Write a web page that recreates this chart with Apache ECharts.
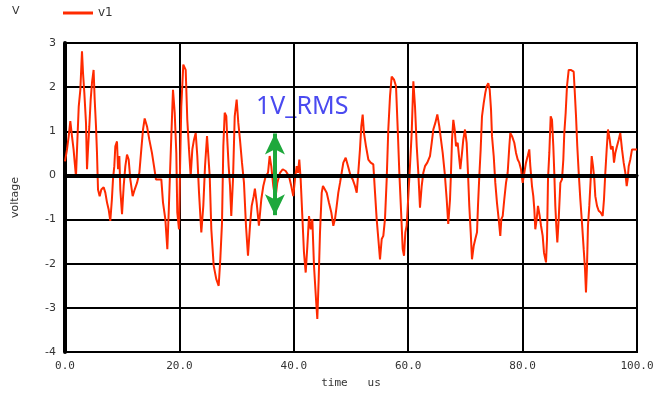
<!DOCTYPE html>
<html>
<head>
<meta charset="utf-8">
<script src="https://cdn.jsdelivr.net/npm/echarts@6/dist/echarts.min.js"></script>
<style>
  html, body { margin: 0; padding: 0; background: #fff; }
  #chart { width: 657px; height: 394px; }
</style>
</head>
<body>
<div id="chart"></div>
<script>
// time axis in microseconds, voltage in volts
var timeUs = [0, 0.35, 0.65, 0.93, 1.22, 1.5, 1.7, 1.92, 2.1, 2.4, 2.68, 2.97, 3.15, 3.38, 3.67, 3.85, 4.02, 4.25, 4.49, 4.72,
  5.0, 5.19, 5.42, 5.59, 5.77, 6.06, 6.35, 6.76, 7.05, 7.34, 7.63, 7.92, 8.2, 8.39, 8.62, 8.8, 9.09, 9.27, 9.5, 9.67,
  9.97, 10.26, 10.55, 10.84, 11.13, 11.42, 11.83, 12.18, 12.59, 13.0, 13.34, 13.64, 13.93, 14.34, 14.74, 15.2, 15.56, 15.9, 16.38, 16.84,
  17.13, 17.54, 17.89, 18.13, 18.36, 18.59, 18.88, 19.18, 19.46, 19.63, 19.93, 20.1, 20.33, 20.68, 21.1, 21.38, 21.68, 21.97, 22.26, 22.55,
  22.85, 23.13, 23.43, 23.83, 24.18, 24.48, 24.83, 25.12, 25.3, 25.58, 26.0, 26.45, 26.87, 27.15, 27.45, 27.68, 27.92, 28.2, 28.37, 28.61,
  28.85, 29.07, 29.37, 29.67, 30.01, 30.3, 30.59, 30.94, 31.29, 31.64, 31.99, 32.34, 32.64, 32.99, 33.2, 33.5, 33.9, 34.32, 34.67, 35.08,
  35.49, 35.78, 36.06, 36.42, 36.77, 37.11, 37.59, 38.06, 38.58, 39.16, 39.56, 39.91, 40.2, 40.5, 40.73, 40.96, 41.2, 41.49, 41.78, 42.08,
  42.37, 42.66, 42.95, 43.24, 43.53, 43.88, 44.11, 44.35, 44.58, 44.88, 45.1, 45.4, 45.75, 46.15, 46.56, 46.91, 47.2, 47.5, 47.78, 48.08,
  48.37, 48.66, 49.07, 49.48, 49.95, 50.3, 50.7, 51.0, 51.27, 51.57, 51.8, 52.04, 52.27, 52.62, 53.03, 53.44, 53.9, 54.2, 54.49, 54.78,
  55.07, 55.37, 55.65, 55.94, 56.24, 56.52, 56.82, 57.11, 57.52, 57.87, 58.17, 58.45, 58.74, 59.04, 59.27, 59.5, 59.73, 60.02, 60.31, 60.61,
  60.9, 61.19, 61.49, 61.77, 62.06, 62.36, 62.64, 62.94, 63.34, 63.81, 64.11, 64.39, 64.74, 65.09, 65.44, 65.73, 66.03, 66.38, 66.73, 67.0,
  67.31, 67.48, 67.66, 67.89, 68.13, 68.36, 68.65, 68.94, 69.11, 69.41, 69.63, 69.93, 70.22, 70.45, 70.68, 70.93, 71.15, 71.45, 71.73, 72.03,
  72.2, 72.43, 72.67, 72.9, 73.2, 73.48, 73.72, 74.0, 74.25, 74.48, 74.65, 74.95, 75.23, 75.52, 75.82, 76.1, 76.28, 76.52, 76.8, 77.1,
  77.39, 77.68, 77.85, 78.15, 78.55, 78.85, 79.14, 79.42, 79.72, 80.01, 80.3, 80.59, 80.89, 81.17, 81.35, 81.64, 81.87, 82.05, 82.22, 82.46,
  82.69, 82.99, 83.22, 83.51, 83.74, 84.09, 84.27, 84.44, 84.67, 84.91, 85.14, 85.37, 85.54, 85.72, 85.89, 86.07, 86.31, 86.6, 86.89, 87.12,
  87.29, 87.53, 87.76, 88.06, 88.41, 88.93, 89.1, 89.34, 89.56, 89.81, 90.09, 90.38, 90.68, 90.91, 91.08, 91.26, 91.43, 91.66, 91.9, 92.08,
  92.31, 92.54, 92.71, 93.01, 93.3, 93.65, 94.0, 94.23, 94.46, 94.7, 94.93, 95.23, 95.45, 95.75, 95.98, 96.21, 96.5, 96.8, 97.08, 97.38,
  97.67, 97.96, 98.2, 98.37, 98.55, 98.83, 99.13, 100];

var v1 = [0.32, 0.59, 0.89, 1.23, 0.89, 0.59, 0.29, -0.02, 0.59, 1.56, 1.94, 2.81, 2.32, 1.87, 1.19, 0.14, 0.59, 1.11, 1.72, 2.1,
  2.39, 1.72, 1.11, 0.52, -0.32, -0.47, -0.32, -0.27, -0.39, -0.61, -0.77, -1.03, -0.54, -0.09, 0.21, 0.66, 0.77, 0.14, 0.44, -0.32,
  -0.88, -0.24, 0.21, 0.47, 0.36, -0.09, -0.47, -0.32, -0.17, 0.06, 0.59, 1.04, 1.29, 1.11, 0.81, 0.51, 0.21, -0.09, -0.09, -0.09,
  -0.61, -0.99, -1.67, -0.84, 0.06, 0.89, 1.94, 1.42, 0.51, -0.84, -1.22, 0.06, 1.56, 2.51, 2.39, 1.26, 0.59, -0.02, 0.59, 0.81,
  0.96, 0.44, -0.39, -1.29, -0.69, 0.21, 0.89, 0.89, -0.02, -1.22, -2.05, -2.35, -2.5, -1.9, -1.07, 0.66, 1.42, 1.34, 0.81, 0.21,
  -0.24, -0.92, -0.09, 1.34, 1.72, 1.19, 0.81, 0.29, -0.17, -1.14, -1.82, -1.14, -0.69, -0.47, -0.3, -0.61, -1.14, -0.54, -0.24, -0.02,
  0.06, 0.44, 0.21, -0.24, -0.54, -0.17, 0.06, 0.14, 0.1, -0.02, -0.24, -0.47, -0.09, 0.21, 0.06, 0.36, -0.09, -0.92, -1.75, -2.2,
  -1.6, -0.92, -1.22, -0.99, -2.05, -2.8, -3.25, -2.35, -1.29, -0.39, -0.24, -0.2, -0.39, -0.62, -0.84, -1.14, -0.99, -0.69, -0.39, -0.17,
  0.06, 0.29, 0.4, 0.21, -0.02, -0.09, -0.24, -0.39, 0.06, 0.59, 1.11, 1.38, 0.96, 0.66, 0.36, 0.29, 0.25, -0.39, -0.99, -1.44,
  -1.9, -1.44, -1.37, -0.99, -0.09, 1.04, 1.79, 2.24, 2.17, 2.02, 1.04, 0.06, -0.77, -1.67, -1.82, -1.29, -1.14, -0.47, 0.21, 0.96,
  2.13, 1.56, 0.66, 0.06, -0.73, -0.24, 0.06, 0.21, 0.29, 0.44, 0.74, 1.04, 1.19, 1.38, 1.11, 0.81, 0.51, 0.06, -0.54, -1.1,
  -0.54, 0.06, 0.81, 1.26, 1.04, 0.66, 0.74, 0.36, 0.14, 0.51, 0.81, 1.04, 0.74, 0.06, -0.69, -1.29, -1.9, -1.6, -1.44, -1.29,
  -0.69, -0.02, 0.59, 1.34, 1.64, 1.87, 2.02, 2.09, 1.94, 1.49, 0.89, 0.44, -0.17, -0.62, -0.99, -1.37, -0.99, -0.92, -0.54, -0.17,
  0.06, 0.66, 0.96, 0.89, 0.74, 0.51, 0.36, 0.29, 0.14, -0.17, 0.06, 0.29, 0.44, 0.59, 0.21, -0.24, -0.47, -0.77, -1.22, -0.99,
  -0.69, -0.92, -1.14, -1.37, -1.75, -1.97, -1.44, -0.09, 0.51, 1.34, 1.26, 0.66, 0.06, -0.69, -1.14, -1.52, -0.99, -0.17, -0.09, 0.36,
  0.96, 1.42, 2.02, 2.39, 2.39, 2.35, 1.94, 1.34, 0.66, 0.06, -0.54, -1.07, -1.67, -2.12, -2.65, -2.05, -1.14, -0.69, -0.09, 0.44,
  0.21, -0.09, -0.47, -0.69, -0.8, -0.84, -0.92, -0.54, 0.06, 0.59, 1.04, 0.81, 0.59, 0.66, 0.29, 0.51, 0.66, 0.81, 0.96, 0.59,
  0.29, 0.06, -0.24, -0.09, 0.21, 0.36, 0.59, 0.59];

// double-headed marker for the RMS annotation (time, top, bottom)
var rmsTime = 36.7;
var rmsSpan = [0.95, -0.9];

var points = timeUs.map(function (t, i) { return [t, v1[i]]; });

var chart = echarts.init(document.getElementById('chart'), null, { renderer: 'canvas' });

var option = {
  backgroundColor: '#fff',
  animation: false,
  textStyle: { fontFamily: 'DejaVu Sans' },
  legend: {
    left: 58,
    top: 2,
    itemWidth: 30,
    itemHeight: 3,
    icon: 'rect',
    itemGap: 8,
    textStyle: { fontFamily: 'DejaVu Sans', fontSize: 12, color: '#333' },
    data: ['v1']
  },
  grid: {
    left: 65,
    right: 20,
    top: 43,
    bottom: 41,
    show: true,
    borderColor: '#000',
    borderWidth: 2
  },
  xAxis: {
    type: 'value',
    min: 0,
    max: 100,
    interval: 20,
    name: 'time   us',
    nameLocation: 'middle',
    nameGap: 26,
    nameTextStyle: { fontFamily: 'DejaVu Sans Mono', fontSize: 11, color: '#333' },
    axisLine: { show: true, lineStyle: { color: '#000', width: 3 } },
    axisTick: { show: false },
    axisLabel: {
      margin: 9,
      fontFamily: 'DejaVu Sans Mono',
      fontSize: 11,
      color: '#333',
      formatter: function (val) { return val.toFixed(1); }
    },
    splitLine: { show: true, lineStyle: { color: '#000', width: 2 } }
  },
  yAxis: {
    type: 'value',
    min: -4,
    max: 3,
    interval: 1,
    name: 'voltage',
    nameLocation: 'middle',
    nameGap: 44,
    nameTextStyle: { fontFamily: 'DejaVu Sans', fontSize: 11, color: '#333' },
    axisLine: { show: true, onZero: false, lineStyle: { color: '#000', width: 4 } },
    axisTick: { show: false },
    axisLabel: { margin: 9, fontFamily: 'DejaVu Sans', fontSize: 11, color: '#333' },
    splitLine: { show: true, lineStyle: { color: '#000', width: 2 } }
  },
  series: [{
    name: 'v1',
    type: 'line',
    data: points,
    showSymbol: false,
    symbol: 'none',
    color: '#ff2a00',
    lineStyle: { color: '#ff2a00', width: 2 },
    z: 3,
    markLine: {
      silent: true,
      animation: false,
      data: [
        [
          { coord: [0, 0], symbol: 'none', lineStyle: { color: '#000', width: 4, type: 'solid' } },
          { coord: [100, 0], symbol: 'none' }
        ],
        [
          { coord: [rmsTime, rmsSpan[0]], symbol: 'arrow', symbolSize: [15, 21], lineStyle: { color: '#1ea83c', width: 4, type: 'solid' } },
          { coord: [rmsTime, rmsSpan[1]], symbol: 'arrow', symbolSize: [15, 21] }
        ]
      ],
      label: { show: false },
      itemStyle: { color: '#1ea83c' }
    }
  }],
  graphic: [
    {
      type: 'text',
      left: 12,
      top: 6,
      style: { text: 'V', font: '11px "DejaVu Sans"', fill: '#333' }
    },
    {
      type: 'text',
      left: 256,
      top: 94,
      style: { text: '1V_RMS', font: '25px "Noto Sans"', fill: '#4a4af0' }
    }
  ]
};

chart.setOption(option);
</script>
</body>
</html>
